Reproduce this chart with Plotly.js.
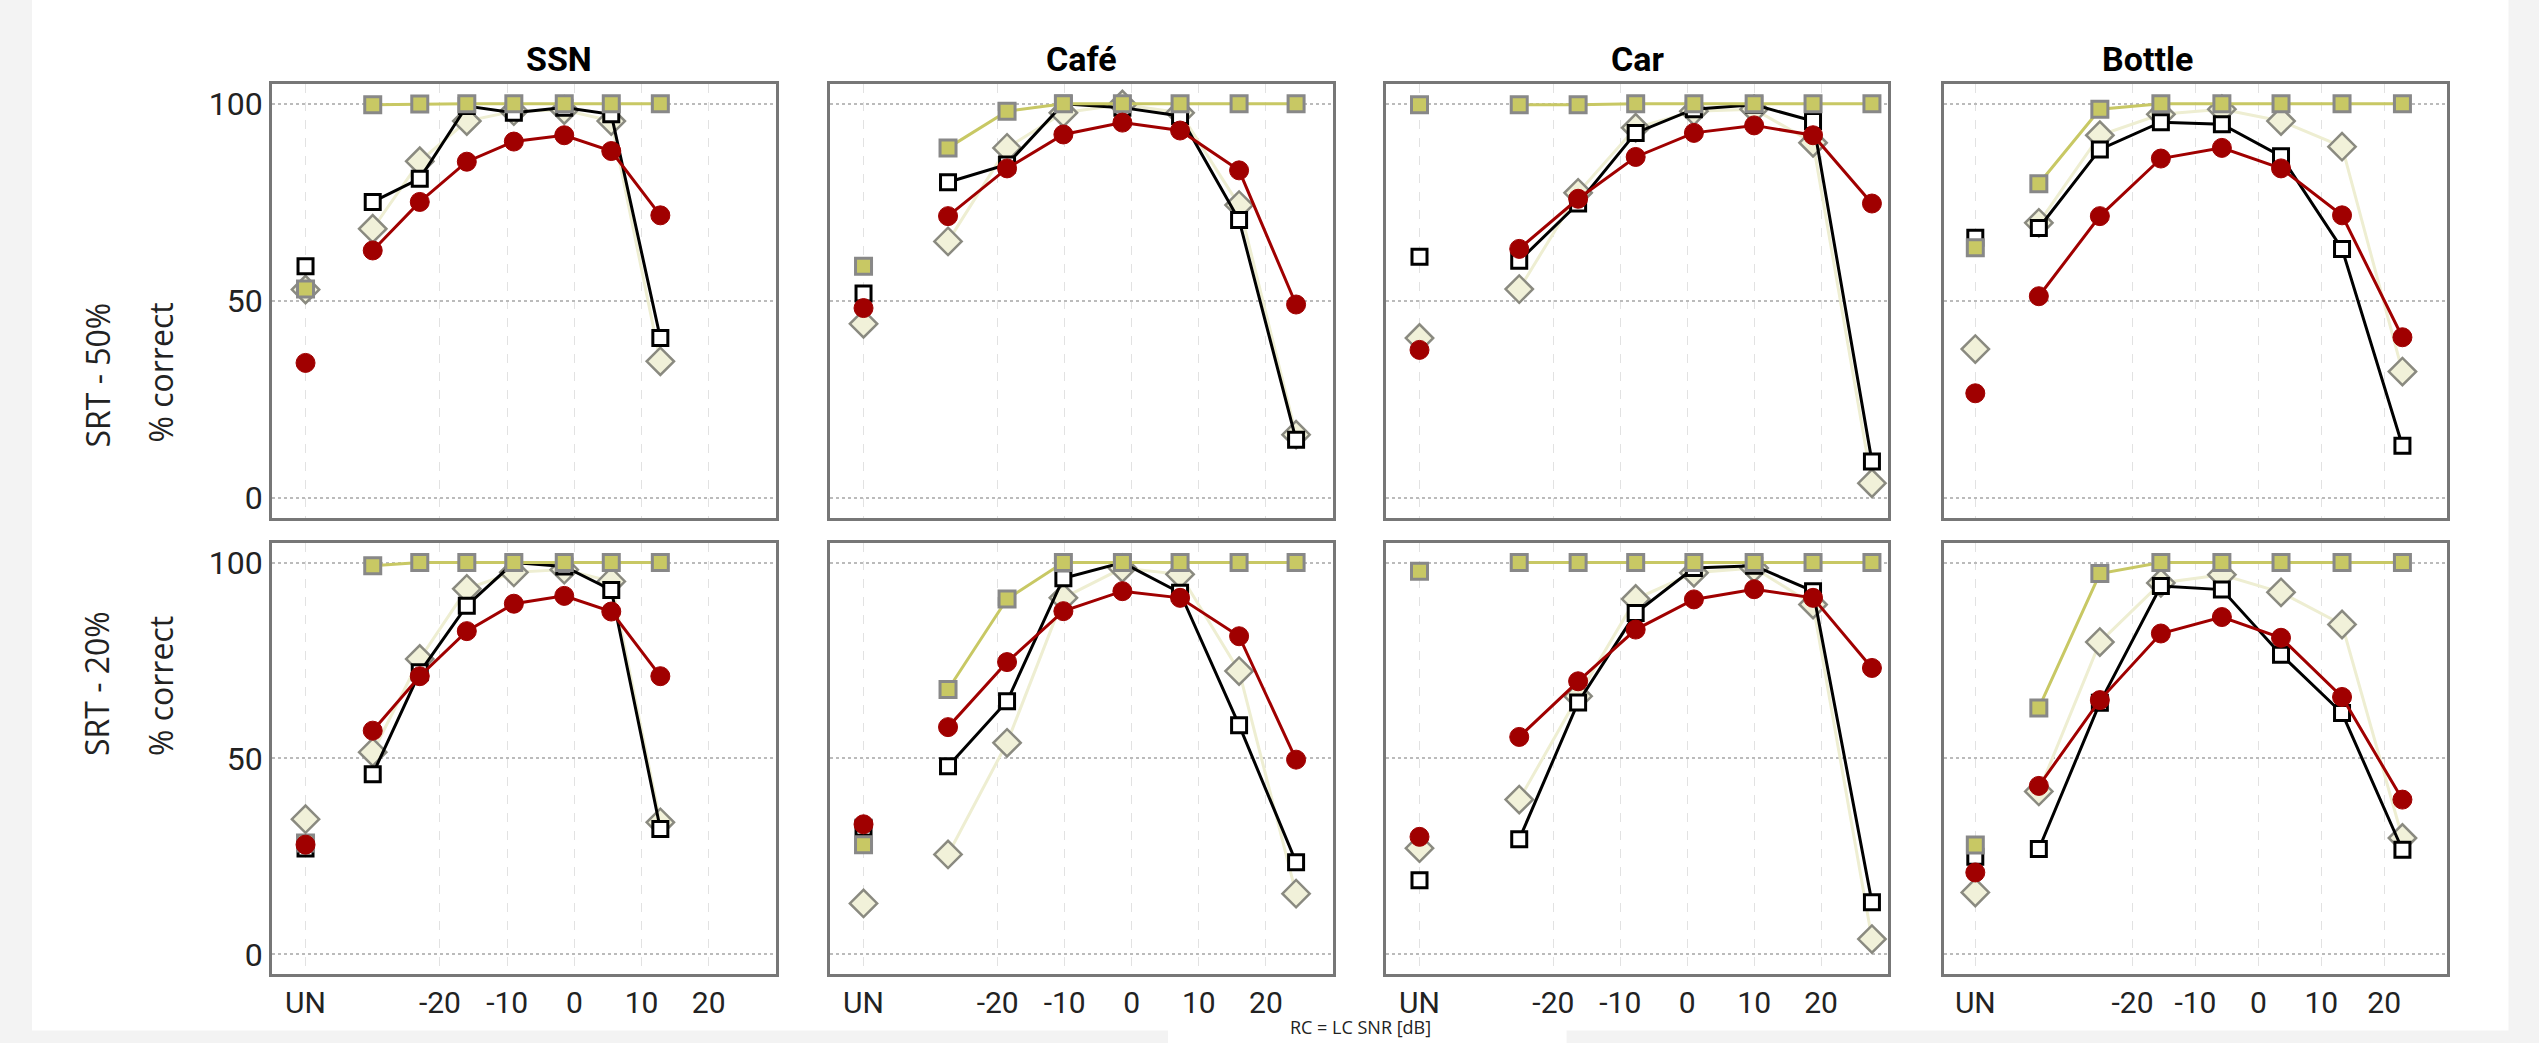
<!DOCTYPE html>
<html>
<head>
<meta charset="utf-8">
<script src="https://cdn.plot.ly/plotly-3.0.1.min.js"></script>
<style>body{margin:0;background:#f3f3f3}</style>
</head>
<body>
<div id="chart" style="width:2539px;height:1043px"></div>
<script>
// panels, x positions of the UN point and of the SNR points (dB)
var panels = ["SSN", "Café", "Car", "Bottle"];
var unPos = [-40, -40, -40, -45];
var xMin = [-45, -45, -45, -50];
var snrSSN = [-30, -23, -16, -9, -1.5, 5.5, 12.8];
var snrCafe = [-27.4, -18.6, -10.2, -1.4, 7.2, 16, 24.5];
var snrCar = [-25.1, -16.3, -7.7, 1, 10, 18.8, 27.6];
var snrBottle = [-34.9, -25.2, -15.5, -5.8, 3.6, 13.3, 22.9];
var snr = [snrSSN, snrCafe, snrCar, snrBottle];

// first value is UN, then the 7 SNR points
// row 1: SRT - 50%
var red50 = [
  [34.3, 62.8, 75.1, 85.3, 90.4, 92, 88, 71.7],
  [48.2, 71.5, 83.6, 92.2, 95.2, 93.2, 83.1, 49.1],
  [37.6, 63.2, 75.9, 86.5, 92.6, 94.5, 92, 74.7],
  [26.6, 51.2, 71.5, 86.1, 88.8, 83.6, 71.7, 40.8]
];
var black50 = [
  [58.8, 75.1, 81, 99.4, 97.7, 99, 97.3, 40.6],
  [51.9, 80.1, 84.6, 100, 99, 96.9, 70.5, 14.8],
  [61.2, 60.2, 74.7, 92.6, 98.6, 99.7, 95.6, 9.3],
  [66, 68.5, 88.4, 95.3, 94.8, 86.7, 63.2, 13.3]
];
var diamond50 = [
  [52.9, 68.3, 85.4, 95.6, 98.1, 98.4, 95.6, 34.7],
  [44.2, 65.1, 88.8, 97.7, 99.8, 97.7, 74.3, 16.1],
  [40.6, 53, 77.4, 93.9, 98.1, 98.6, 90.1, 3.8],
  [37.8, 69.8, 92, 97.3, 98.6, 95.6, 89.1, 32.1]
];
var yellow50 = [
  [53, 99.7, 99.9, 100, 100, 100, 100, 100],
  [58.8, 88.8, 98.1, 100, 100, 100, 100, 100],
  [99.7, 99.7, 99.7, 100, 100, 100, 100, 100],
  [63.5, 79.7, 98.6, 100, 100, 100, 100, 100]
];
// row 2: SRT - 20%
var red20 = [
  [28, 57.1, 71, 82.5, 89.5, 91.5, 87.5, 71],
  [33.2, 58, 74.6, 87.6, 92.7, 91, 81.2, 49.7],
  [30, 55.5, 69.7, 82.9, 90.6, 93.2, 91, 73.1],
  [20.9, 43, 64.9, 81.9, 86.1, 80.8, 65.7, 39.5]
];
var black20 = [
  [27, 46, 72, 89, 100, 99, 93, 32],
  [32.3, 48, 64.6, 96, 100, 92.3, 58.5, 23.5],
  [18.9, 29.4, 64.3, 87.1, 98.6, 99.2, 92.7, 13.3],
  [24.9, 26.9, 64.2, 94, 93.1, 76.5, 61.6, 26.7]
];
var diamond20 = [
  [34.5, 51.6, 75.4, 93.3, 97.5, 98.2, 95.2, 33.7],
  [13, 25.5, 54, 91, 98.6, 97, 72.3, 15.5],
  [27.1, 39.5, 65.9, 90.7, 97.4, 98.6, 89.3, 3.9],
  [15.8, 41.6, 79.7, 94.8, 96.9, 92.4, 84.2, 29.7]
];
var yellow20 = [
  [28.4, 99.2, 100, 100, 100, 100, 100, 100],
  [28, 67.6, 90.7, 100, 100, 100, 100, 100],
  [97.8, 100, 100, 100, 100, 100, 100, 100],
  [27.9, 62.9, 97.2, 100, 100, 100, 100, 100]
];
var rowLabels = ["SRT - 50%", "SRT - 20%"];

var colDom = [[0.1071, 0.3056], [0.3269, 0.525], [0.5459, 0.7436], [0.7656, 0.9638]];
var rowDom = [[0.5034, 0.9195], [0.0662, 0.4794]];

var styles = [
  { line: { color: "#eeeed2", width: 3 }, marker: { symbol: "diamond", size: 21, color: "#f1f1d9", line: { color: "#8a8a80", width: 2.5 } } },
  { line: { color: "#000000", width: 3 }, marker: { symbol: "square", size: 15, color: "#ffffff", line: { color: "#000000", width: 3 } } },
  { line: { color: "#c8c864", width: 3 }, marker: { symbol: "square", size: 16, color: "#c8c864", line: { color: "#888888", width: 3 } } },
  { line: { color: "#a00000", width: 3 }, marker: { symbol: "circle", size: 19, color: "#a00000", line: { color: "#a00000", width: 1 } } }
];

var data = [];
var layout = {
  width: 2539,
  height: 1043,
  margin: { l: 0, r: 0, t: 0, b: 0 },
  paper_bgcolor: "#f3f3f3",
  plot_bgcolor: "#ffffff",
  showlegend: false,
  font: { family: "Roboto, sans-serif", size: 32, color: "#222" },
  shapes: [
    { type: "rect", xref: "paper", yref: "paper", x0: 0.0126, x1: 0.988, y0: 0.012, y1: 1, fillcolor: "#ffffff", line: { width: 0 }, layer: "below" }
  ],
  annotations: []
};

for (var r = 0; r < 2; r++) {
  var rows = r == 0 ? [diamond50, black50, yellow50, red50] : [diamond20, black20, yellow20, red20];
  for (var c = 0; c < 4; c++) {
    var n = r * 4 + c + 1;
    var xa = "xaxis" + (n == 1 ? "" : n);
    var ya = "yaxis" + (n == 1 ? "" : n);
    for (var s = 0; s < 4; s++) {
      var v = rows[s][c];
      var xs = [unPos[c], null].concat(snr[c]);
      var ys = [v[0], null].concat(v.slice(1));
      data.push({
        type: "scatter", mode: "lines+markers",
        x: xs, y: ys,
        xaxis: "x" + (n == 1 ? "" : n), yaxis: "y" + (n == 1 ? "" : n),
        line: styles[s].line, marker: styles[s].marker,
        connectgaps: false, cliponaxis: false
      });
    }
    layout[xa] = {
      domain: colDom[c], anchor: "y" + (n == 1 ? "" : n),
      range: [xMin[c], 30],
      tickvals: [unPos[c], -20, -10, 0, 10, 20],
      ticktext: ["UN", "-20", "-10", "0", "10", "20"],
      showticklabels: r == 1,
      showgrid: true, griddash: "dash", gridcolor: "#e2e2e2", gridwidth: 1.2,
      zeroline: false, showline: true, mirror: true, linecolor: "#777", linewidth: 2.5,
      ticks: "", tickfont: { size: 30 }
    };
    layout[ya] = {
      domain: rowDom[r], anchor: "x" + (n == 1 ? "" : n),
      range: [-5, 105],
      tickvals: [0, 50, 100],
      showticklabels: c == 0,
      showgrid: true, griddash: "dot", gridcolor: "#bbbbbb", gridwidth: 2,
      zeroline: false, showline: true, mirror: true, linecolor: "#777", linewidth: 2.5,
      ticks: "", tickfont: { size: 32 }
    };
    if (r == 0) {
      layout.annotations.push({
        text: "<b>" + panels[c] + "</b>", xref: "paper", yref: "paper",
        x: (colDom[c][0] + colDom[c][1]) / 2, y: 0.965, showarrow: false,
        font: { size: 34, family: "Roboto, sans-serif", color: "#000" }
      });
    }
  }
  var yc = (rowDom[r][0] + rowDom[r][1]) / 2;
  layout.annotations.push({
    text: rowLabels[r], xref: "paper", yref: "paper", x: 0.029, y: yc,
    textangle: -90, showarrow: false, font: { size: 32, family: "Open Sans, sans-serif", color: "#222" }
  });
  layout.annotations.push({
    text: "% correct", xref: "paper", yref: "paper", x: 0.054, y: yc,
    textangle: -90, showarrow: false, font: { size: 32, family: "Open Sans, sans-serif", color: "#222" }
  });
}

layout.shapes.push({ type: "rect", xref: "paper", yref: "paper", x0: 0.46, x1: 0.617, y0: -0.02, y1: 0.014, fillcolor: "#ffffff", line: { width: 0 } });
layout.annotations.push({
  text: "RC = LC SNR [dB]", xref: "paper", yref: "paper", x: 0.536, y: 0.002,
  yanchor: "bottom", showarrow: false, font: { size: 18, family: "Open Sans, sans-serif", color: "#222" }
});

Plotly.newPlot("chart", data, layout, { displayModeBar: false });
</script>
</body>
</html>
